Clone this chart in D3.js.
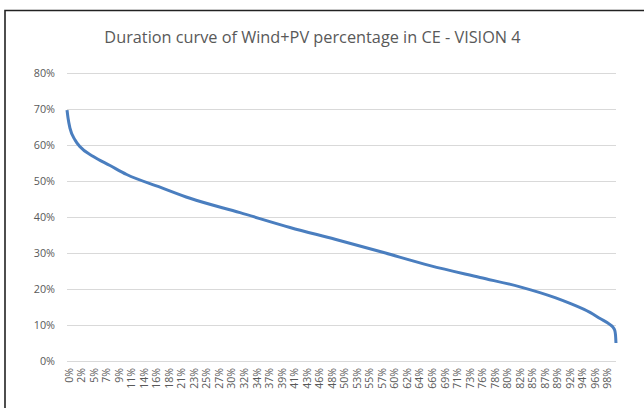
<!DOCTYPE html>
<html><head><meta charset="utf-8">
<script src="https://cdn.jsdelivr.net/npm/d3@7"></script>
<style>body{margin:0;background:#fff}svg{display:block}</style>
</head><body><svg id="c" width="644" height="408"></svg>
<script>
const title = "Duration curve of Wind+PV percentage in CE - VISION 4";
const hoursInYear = 8760;
const labelStep = 200;
// category tick labels (every 200th hour of the sorted year)
const tickLabels = ["0%","2%","5%","7%","9%","11%","14%","16%","18%","21%","23%","25%","27%","30%","32%","34%","37%","39%","41%","43%","46%","48%","50%","53%","55%","57%","60%","62%","64%","66%","69%","71%","73%","76%","78%","80%","82%","85%","87%","89%","92%","94%","96%","98%"];
const yTicks = [0,0.1,0.2,0.3,0.4,0.5,0.6,0.7,0.8];
// points: hour rank and Wind+PV share
const hourRank = [0,16,48,128,208,420,686,952,1484,1963,2761,3558,4276,4994,5792,6590,7228,7787,8026,8345,8505,8665,8710,8740,8752,8759];
const windPvShare = [0.697,0.675,0.646,0.614,0.595,0.568,0.543,0.518,0.483,0.452,0.412,0.371,0.338,0.304,0.265,0.232,0.206,0.176,0.160,0.135,0.118,0.101,0.094,0.085,0.072,0.050];

const svg = d3.select("#c");
const L = 67, R = 616, T = 73, B = 361;
const x = d3.scaleLinear().domain([0, hoursInYear]).range([L, R]);
const y = d3.scaleLinear().domain([0, 0.8]).range([B, T]);

// frame
svg.append("path").attr("d","M5,408V10.5H644").attr("fill","none").attr("stroke","#222").attr("stroke-width",1.6);

svg.append("text").attr("x",312.5).attr("y",43).attr("text-anchor","middle")
  .attr("font-family","Open Sans, sans-serif").attr("font-size",16.3).attr("fill","#595959").text(title);

// gridlines + y axis
const yAxis = d3.axisLeft(y).tickValues(yTicks).tickSize(-(R-L)).tickFormat(d3.format(".0%"));
const gy = svg.append("g").attr("transform",`translate(${L},0)`).call(yAxis);
gy.select(".domain").remove();
gy.selectAll(".tick line").attr("stroke","#d9d9d9").attr("stroke-width",1);
gy.selectAll(".tick text").attr("x",-12).attr("fill","#595959").attr("font-family","Open Sans, sans-serif").attr("font-size",10.8);

// category axis labels
const xAxis = d3.axisBottom(x).tickValues(tickLabels.map((_,i)=>i*labelStep+0.5)).tickSize(0)
  .tickFormat((d,i)=>tickLabels[i]);
const gx = svg.append("g").attr("transform",`translate(0,${B})`).call(xAxis);
gx.select(".domain").remove();
gx.selectAll(".tick text").attr("transform","rotate(-90)").attr("text-anchor","end")
  .attr("x",-7).attr("y",1.3).attr("dy","0.35em").attr("dx",0)
  .attr("fill","#595959").attr("font-family","Open Sans, sans-serif").attr("font-size",10.5);

// the curve
const line = d3.line().x((d,i)=>x(hourRank[i]+0.5)).y(d=>y(d)).curve(d3.curveMonotoneX);
svg.append("path").datum(windPvShare).attr("d",line).attr("fill","none")
  .attr("stroke","#4a7ebf").attr("stroke-width",3).attr("stroke-linejoin","round");
</script></body></html>
